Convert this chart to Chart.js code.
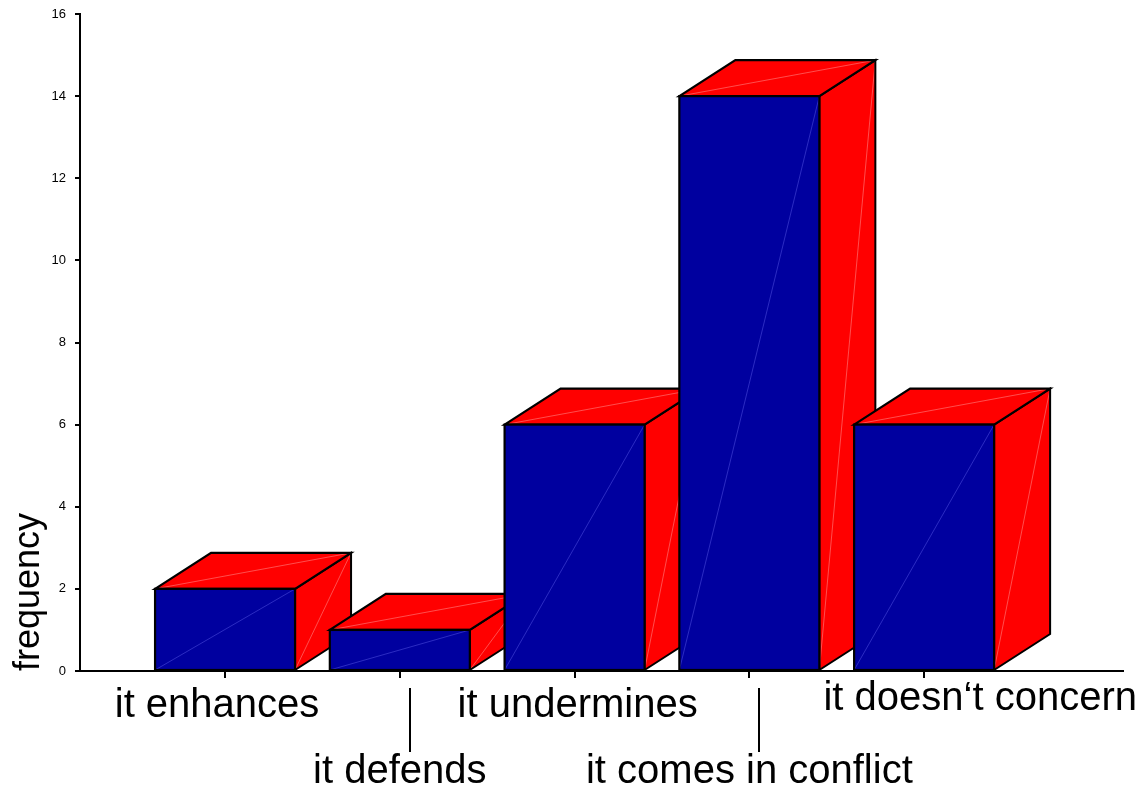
<!DOCTYPE html>
<html>
<head>
<meta charset="utf-8">
<script src="https://cdn.jsdelivr.net/npm/chart.js@4.4.1/dist/chart.umd.min.js"></script>
<style>
  html, body { margin: 0; padding: 0; background: #ffffff; }
  #wrap { width: 1142px; height: 790px; position: relative; }
</style>
</head>
<body>
<div id="wrap"><canvas id="c" width="1142" height="790"></canvas></div>
<script>
// ---- data ----
const categories = ['it enhances', 'it defends', 'it undermines', 'it comes in conflict', 'it doesn\u2018t concern'];
const frequencies = [2, 1, 6, 14, 6];
const yTicks = [0, 2, 4, 6, 8, 10, 12, 14, 16];
const yTitle = 'frequency';

const FONT = "'Liberation Sans', Arial, Helvetica, sans-serif";
const BLUE = '#00009f';
const RED = '#ff0000';

const box3d = {
  id: 'box3d',
  afterDatasetsDraw(chart) {
    const ctx = chart.ctx;
    const meta = chart.getDatasetMeta(0);
    ctx.save();
    meta.data.forEach((el) => {
      const p = el.getProps(['x', 'y', 'base', 'width'], true);
      const L = p.x - p.width / 2, R = p.x + p.width / 2;
      const T = p.y, B = p.base;
      const dx = p.width * 0.4, dy = 36;
      ctx.lineJoin = 'miter';
      // side face
      ctx.beginPath();
      ctx.moveTo(R, B); ctx.lineTo(R + dx, B - dy); ctx.lineTo(R + dx, T - dy); ctx.lineTo(R, T); ctx.closePath();
      ctx.fillStyle = RED; ctx.fill();
      ctx.strokeStyle = 'rgba(255,160,160,0.7)'; ctx.lineWidth = 0.7;
      ctx.beginPath(); ctx.moveTo(R, B); ctx.lineTo(R + dx, T - dy); ctx.stroke();
      ctx.beginPath();
      ctx.moveTo(R, B); ctx.lineTo(R + dx, B - dy); ctx.lineTo(R + dx, T - dy); ctx.lineTo(R, T); ctx.closePath();
      ctx.strokeStyle = '#000'; ctx.lineWidth = 2; ctx.stroke();
      // top face
      ctx.beginPath();
      ctx.moveTo(L, T); ctx.lineTo(L + dx, T - dy); ctx.lineTo(R + dx, T - dy); ctx.lineTo(R, T); ctx.closePath();
      ctx.fillStyle = RED; ctx.fill();
      ctx.strokeStyle = 'rgba(255,160,160,0.7)'; ctx.lineWidth = 0.7;
      ctx.beginPath(); ctx.moveTo(L, T); ctx.lineTo(R + dx, T - dy); ctx.stroke();
      ctx.beginPath();
      ctx.moveTo(L, T); ctx.lineTo(L + dx, T - dy); ctx.lineTo(R + dx, T - dy); ctx.lineTo(R, T); ctx.closePath();
      ctx.strokeStyle = '#000'; ctx.lineWidth = 2.2; ctx.stroke();
      // front face
      ctx.fillStyle = BLUE; ctx.fillRect(L, T, R - L, B - T);
      ctx.strokeStyle = 'rgba(90,90,230,0.7)'; ctx.lineWidth = 0.7;
      ctx.beginPath(); ctx.moveTo(L, B); ctx.lineTo(R, T); ctx.stroke();
      ctx.strokeStyle = '#000'; ctx.lineWidth = 2.2;
      ctx.strokeRect(L, T, R - L, B - T);
    });
    ctx.restore();
  },
  afterDraw(chart) {
    const ctx = chart.ctx;
    const xs = chart.scales.x;
    const bottom = chart.chartArea.bottom;
    ctx.save();
    ctx.font = '40px ' + FONT;
    ctx.fillStyle = '#000';
    ctx.textBaseline = 'alphabetic';
    categories.forEach((lab, i) => {
      const px = xs.getPixelForValue(i);
      const low = i % 2 === 1;
      const y = bottom + (low ? 112 : 46);
      if (i === categories.length - 1) {
        ctx.textAlign = 'right';
        ctx.fillText(lab, chart.width - 5, y - 7);
      } else {
        ctx.textAlign = 'center';
        ctx.fillText(lab, px - (i === 0 ? 8 : (i === 2 ? -3 : 0)), y);
      }
      if (low) {
        ctx.strokeStyle = '#000'; ctx.lineWidth = 2;
        ctx.beginPath();
        ctx.moveTo(Math.round(px + 10), bottom + 17);
        ctx.lineTo(Math.round(px + 10), bottom + 81);
        ctx.stroke();
      }
    });
    ctx.restore();
  }
};

new Chart(document.getElementById('c'), {
  type: 'bar',
  data: {
    datasets: [{
      data: categories.map((c, i) => ({ x: i, y: frequencies[i] })),
      backgroundColor: BLUE,
      borderWidth: 0,
      barThickness: 140,
      clip: false
    }]
  },
  options: {
    responsive: false,
    animation: false,
    devicePixelRatio: 1,
    layout: { padding: { top: 14, right: 19, left: 0, bottom: 0 } },
    plugins: { legend: { display: false }, tooltip: { enabled: false } },
    scales: {
      x: {
        type: 'linear',
        offset: false,
        min: -0.83,
        max: 5.138,
        afterBuildTicks(scale) { scale.ticks = categories.map((c, i) => ({ value: i })); },
        afterFit(scale) { scale.height = 119; scale.paddingLeft = 0; scale.paddingRight = 0; },
        ticks: { callback: () => '', font: { size: 1 }, padding: 0, maxRotation: 0, autoSkip: false },
        grid: { offset: false, drawOnChartArea: false, drawTicks: true, tickLength: 7, color: '#000', lineWidth: 2 },
        border: { display: true, color: '#000', width: 2 }
      },
      y: {
        type: 'linear',
        min: 0,
        max: 16,
        afterBuildTicks(scale) { scale.ticks = yTicks.map(v => ({ value: v })); },
        afterFit(scale) { scale.width = 80; scale.paddingTop = 0; scale.paddingBottom = 0; },
        ticks: { color: '#000', font: { family: FONT, size: 13 }, padding: 9 },
        grid: { drawOnChartArea: false, drawTicks: true, tickLength: 5, color: '#000', lineWidth: 2 },
        border: { display: true, color: '#000', width: 2 },
        title: {
          display: true,
          text: yTitle,
          align: 'start',
          color: '#000',
          font: { family: FONT, size: 36 },
          padding: { top: 7, bottom: 0 }
        }
      }
    }
  },
  plugins: [box3d]
});
</script>
</body>
</html>
